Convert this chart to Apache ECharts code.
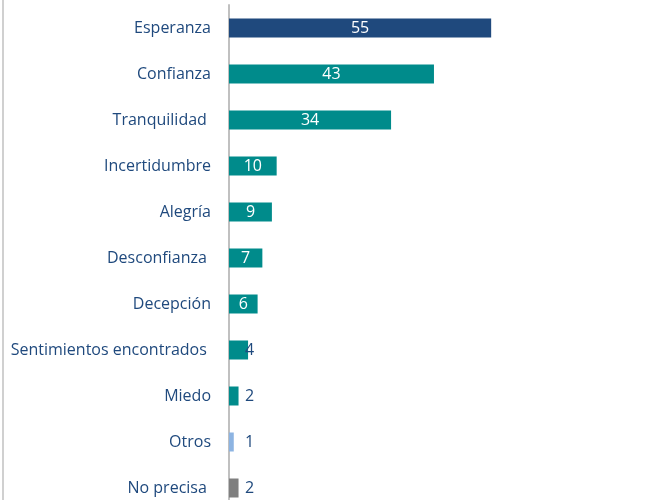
<!DOCTYPE html>
<html>
<head>
<meta charset="utf-8">
<script src="https://cdn.jsdelivr.net/npm/echarts@6/dist/echarts.min.js"></script>
<style>
  html, body { margin: 0; padding: 0; background: #fff; overflow: hidden; }
  /* el grafico original esta recortado abajo: el contenedor es mas alto que la ventana */
  #chart { width: 665px; height: 511px; }
</style>
</head>
<body>
<div id="chart"></div>
<script>
// categorias y valores
var categories = ['Esperanza', 'Confianza', 'Tranquilidad ', 'Incertidumbre', 'Alegría',
    'Desconfianza ', 'Decepción', 'Sentimientos encontrados ', 'Miedo', 'Otros', 'No precisa '];
var values = [55, 43, 34, 10, 9, 7, 6, 4, 2, 1, 2];
var barColors = ['#1f497d', '#008b8b', '#008b8b', '#008b8b', '#008b8b', '#008b8b',
    '#008b8b', '#008b8b', '#008b8b', '#8db4e2', '#7f7f7f'];

var textBlue = '#1f497d';
var fontName = 'Open Sans';

var myChart = echarts.init(document.getElementById('chart'));

var seriesData = [];
for (var i = 0; i < values.length; i++) {
    var item = {
        value: values[i],
        itemStyle: { color: barColors[i] }
    };
    if (values[i] < 6) {
        // etiqueta fuera de la barra
        item.label = {
            position: [16, '50%'],
            align: 'left',
            verticalAlign: 'middle',
            color: textBlue
        };
    }
    seriesData.push(item);
}

var option = {
    animation: false,
    grid: {
        left: 229,
        right: 150,
        top: 5,
        bottom: 0,
        containLabel: false
    },
    xAxis: {
        type: 'value',
        min: 0,
        max: 60,
        show: false
    },
    yAxis: {
        type: 'category',
        inverse: true,
        data: categories,
        axisLine: { show: true, lineStyle: { color: '#c0c0c0', width: 2 } },
        axisTick: { show: false },
        axisLabel: {
            margin: 18,
            fontFamily: fontName,
            fontSize: 16,
            color: textBlue
        }
    },
    series: [{
        type: 'bar',
        data: seriesData,
        barWidth: 19,
        label: {
            show: true,
            position: 'inside',
            color: '#ffffff',
            fontFamily: fontName,
            fontSize: 16
        }
    }],
    graphic: [{
        type: 'rect',
        shape: { x: 2, y: 0, width: 2, height: 511 },
        style: { fill: '#d0d0d0' }
    }]
};

myChart.setOption(option);
</script>
</body>
</html>
